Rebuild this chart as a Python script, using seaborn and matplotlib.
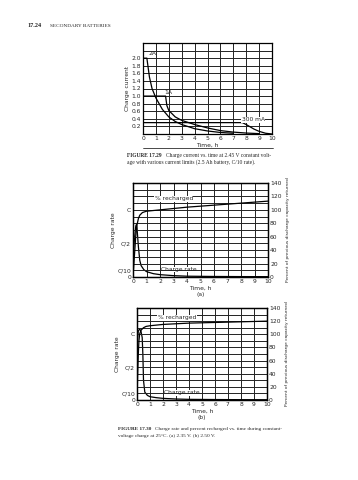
import numpy as np
import pandas as pd
import matplotlib
matplotlib.use("Agg")
import matplotlib.pyplot as plt
from matplotlib.lines import Line2D
import seaborn as sns

# Figure 17.29 - charge current (A) vs time (h) for three current limits
t_2a = [0, 0.3, 0.4, 0.5, 0.7, 1.0, 1.5, 2.0, 2.5, 3.0, 4.0, 5.0, 6.0, 7.0]
i_2a = [2.0, 2.0, 1.75, 1.5, 1.2, 0.95, 0.65, 0.45, 0.33, 0.25, 0.14, 0.08, 0.04, 0.02]
t_1a = [0, 1.75, 1.85, 2.0, 2.5, 3.0, 4.0, 5.0, 6.0, 7.0, 8.0, 9.0]
i_1a = [1.0, 1.0, 0.75, 0.62, 0.45, 0.36, 0.25, 0.16, 0.09, 0.05, 0.025, 0.01]
t_300 = [0, 7.7, 8.0, 8.3, 8.6, 9.0, 9.5, 10.0]
i_300 = [0.3, 0.3, 0.25, 0.19, 0.13, 0.07, 0.02, 0.0]

# Figure 17.30 (a) 2.35 V - charge rate (fraction of C) and % recharged
t_rate_a = [0, 0.1, 0.2, 0.25, 0.3, 0.4, 0.5, 0.6, 0.8, 1.0, 1.5, 2.0, 3.0, 4.0, 6.0, 8.0, 10.0]
rate_a = [0.3, 0.55, 0.75, 0.78, 0.72, 0.45, 0.25, 0.17, 0.11, 0.08, 0.05, 0.035, 0.02, 0.012, 0.008, 0.006, 0.005]
t_pct_a = [0, 0.1, 0.2, 0.3, 0.4, 0.5, 0.7, 1.0, 1.5, 2.0, 3.0, 4.0, 6.0, 8.0, 10.0]
pct_a = [0, 30, 60, 78, 87, 92, 96, 98, 99, 100, 102, 104, 107, 110, 113]

# Figure 17.30 (b) 2.50 V
t_rate_b = [0, 0.05, 0.1, 0.2, 0.3, 0.4, 0.45, 0.5, 0.6, 0.8, 1.0, 1.5, 2.0, 3.0, 4.0, 6.0, 8.0, 10.0]
rate_b = [0.6, 0.95, 1.05, 1.08, 1.05, 0.95, 0.7, 0.3, 0.12, 0.07, 0.05, 0.035, 0.025, 0.015, 0.01, 0.007, 0.005, 0.004]
t_pct_b = [0, 0.05, 0.1, 0.15, 0.2, 0.3, 0.5, 0.7, 1.0, 1.5, 2.0, 3.0, 4.0, 6.0, 8.0, 10.0]
pct_b = [0, 40, 70, 90, 100, 106, 110, 112, 113, 114, 115, 116, 117, 118, 119, 120]

hours = list(range(11))
rate_ticks = [0, 0.1, 0.5, 1.0]
rate_labels = ["0", "C/10", "C/2", "C"]
pct_ticks = [0, 20, 40, 60, 80, 100, 120, 140]

sns.set_style("white")
plt.rcParams['font.family'] = ['DejaVu Sans']
FS = 4.3
GRID = dict(color="#222222", lw=0.7)

fig = plt.figure(figsize=(3.58, 4.8), dpi=100)
W, H = 358, 480


def px_axes(left, top, right, bottom):
    return fig.add_axes([left / W, 1 - bottom / H, (right - left) / W, (bottom - top) / H])


def frame(ax):
    for s in ax.spines.values():
        s.set_color("black")
        s.set_linewidth(0.9)
    ax.tick_params(length=0, pad=1.5, labelsize=FS)


def caption(x, y, tag, lines, size):
    fig.text(x / W, 1 - y / H, tag, fontsize=size, family="Liberation Serif", weight="bold")
    fig.text((x + 9.7 * size) / W, 1 - y / H, lines[0], fontsize=size, family="Liberation Serif")
    fig.text(x / W, 1 - (y + 7) / H, lines[1], fontsize=size, family="Liberation Serif")


# page header
fig.text(27 / W, 1 - 28 / H, "17.24", fontsize=4.5, family="Liberation Serif", weight="bold", va="bottom")
fig.text(50 / W, 1 - 28 / H, "SECONDARY BATTERIES", fontsize=3.8, family="Liberation Serif", va="bottom")

# ---- Figure 17.29
ax1 = px_axes(143, 43, 272, 134)
for tt, ii in [(t_2a, i_2a), (t_1a, i_1a), (t_300, i_300)]:
    sns.lineplot(x=tt, y=ii, ax=ax1, color="black", lw=0.9, legend=False)
ax1.set_xlim(0, 10)
ax1.set_ylim(0, 2.4)
ax1.set_xticks(hours)
ax1.set_yticks(np.arange(0, 2.41, 0.2))
ax1.set_yticklabels(["" if (v < 0.1 or v > 2.05) else f"{v:.1f}" for v in np.arange(0, 2.41, 0.2)])
ax1.grid(True, **GRID)
frame(ax1)
ax1.set_xlabel("Time, h", fontsize=FS, labelpad=1)
ax1.set_ylabel("Charge current", fontsize=FS, labelpad=1)
ax1.text(0.45, 2.08, "2A", fontsize=FS)
ax1.text(1.65, 1.06, "1A", fontsize=FS)
ax1.text(7.65, 0.33, "300 mA", fontsize=FS, bbox=dict(fc="white", ec="none", pad=0.3))
fig.add_artist(Line2D([143 / W, 273 / W], [1 - 148 / H, 1 - 148 / H], color="black", lw=0.5))

caption(127, 157, "FIGURE 17.29",
        ["Charge current vs. time at 2.45 V constant volt-",
         "age with various current limits (2.5 Ah battery, C/10 rate)."], 4.0)


def rate_chart(box, t_rate, rate, t_pct, pct, tag, pct_lbl_y, tag_y):
    ax = px_axes(*box)
    ax2 = ax.twinx()
    sns.lineplot(x=t_rate, y=rate, ax=ax, color="black", lw=0.9, legend=False)
    sns.lineplot(x=t_pct, y=pct, ax=ax2, color="black", lw=0.9, legend=False)
    ax.set_xlim(0, 10)
    ax.set_ylim(0, 1.4)
    ax2.set_ylim(0, 140)
    ax.set_xticks(hours)
    ax.set_yticks(rate_ticks)
    ax.set_yticklabels(rate_labels)
    ax2.set_yticks(range(0, 141, 10))
    ax2.set_yticklabels([str(v) if v in pct_ticks else "" for v in range(0, 141, 10)])
    ax.grid(True, axis="x", **GRID)
    ax.grid(False, axis="y")
    ax2.grid(True, axis="y", **GRID)
    ax2.grid(False, axis="x")
    frame(ax)
    frame(ax2)
    ax.set_xlabel("Time, h", fontsize=FS, labelpad=1)
    ax.set_ylabel("Charge rate", fontsize=FS, labelpad=1)
    ax2.set_ylabel("Percent of previous discharge capacity returned", fontsize=3.2, labelpad=3)
    ax2.text(1.6, pct_lbl_y, "% recharged", fontsize=FS, bbox=dict(fc="white", ec="none", pad=0.3))
    ax.text(2.1, 0.09, "Charge rate", fontsize=FS, bbox=dict(fc="white", ec="none", pad=0.3))
    fig.text((box[0] + box[2]) / 2 / W, 1 - tag_y / H, tag, fontsize=FS, ha="center")
    return ax


rate_chart((133, 183, 268, 277), t_rate_a, rate_a, t_pct_a, pct_a, "(a)", 114, 296)
rate_chart((137, 308, 267, 400), t_rate_b, rate_b, t_pct_b, pct_b, "(b)", 123, 419)

caption(118, 430, "FIGURE 17.30",
        ["Charge rate and percent recharged vs. time during constant-",
         "voltage charge at 25°C. (a) 2.35 V. (b) 2.50 V."], 3.8)

fig.savefig("out.png", dpi=100)
